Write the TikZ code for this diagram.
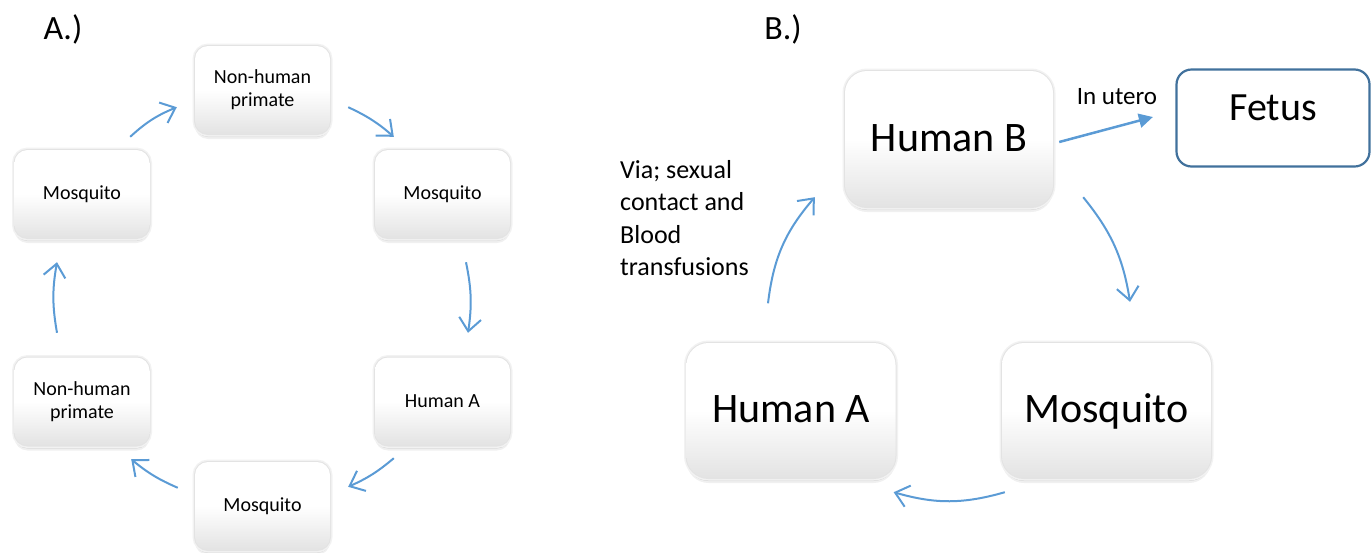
\documentclass[tikz,border=0pt]{standalone}
\usepackage{fontspec}
\setmainfont{Carlito}
\usepackage{tikz}
\usetikzlibrary{calc, arrows.meta, shadows, shapes, positioning}
\definecolor{arrowblue}{RGB}{91, 155, 213}
\definecolor{fetusblue}{RGB}{65, 113, 156}
\tikzset{
    boxlook/.style = {rectangle, drop shadow={shadow xshift=0pt, shadow yshift=-5pt, opacity=0.12},
      drop shadow={shadow xshift=0pt, shadow yshift=-3pt, opacity=0.22},
      preaction={draw=black!5, line width=5pt}, preaction={draw=black!11, line width=2pt},
      top color=white, bottom color=black!11, middle color=white, inner sep=0em, node distance=0em},
    smallbox/.style = {boxlook, rounded corners=13pt, minimum width=135pt, minimum height=88pt,
      font=\fontsize{20}{23}\selectfont},
    bigbox/.style = {boxlook, rounded corners=22pt, minimum width=209pt, minimum height=135pt,
      text height=29pt, text depth=5pt, font=\fontsize{42}{48}\selectfont},
    fetusnode/.style = {draw=fetusblue, line width=2.2pt, rectangle, rounded corners=15pt, fill=white, inner sep=0em,
      node distance=0em, minimum width=193pt, minimum height=97pt, text height=26pt, text depth=22pt,
      font=\fontsize{40}{46}\selectfont},
    textnode/.style = {draw=none, fill=none, rectangle, inner sep=0em, node distance=0em},
    connect/.style = {draw=arrowblue, line width=2pt, -{Straight Barb[length=13pt, width=22pt]}},
    uterolink/.style = {draw=arrowblue, line width=2.5pt, -{Triangle[length=14pt, width=14pt]}},
    every text node part/.style={align=center}
}

\begin{document}
\begin{tikzpicture}[x=1pt, y=-1pt]
\useasboundingbox (0,0) rectangle (1372,552);

\node[textnode, name=labelA, font=\fontsize{34}{40}\selectfont] at (63,29) {A.)};
\node[textnode, name=labelB, right of = labelA, xshift=720pt, font=\fontsize{34}{40}\selectfont] {B.)};

\node[smallbox, name=nhpTop] at (262.5,90) {Non-human\\primate};
\node[smallbox, name=mosLeft, left of = nhpTop, xshift=-180.5pt, yshift=-104pt] {Mosquito};
\node[smallbox, name=mosRight, right of = nhpTop, xshift=180pt, yshift=-104pt] {Mosquito};
\node[smallbox, name=nhpBot, below of = mosLeft, yshift=-207.5pt] {Non-human\\primate};
\node[smallbox, name=humanA, below of = mosRight, yshift=-207.5pt] {Human A};
\node[smallbox, name=mosBot, below of = nhpTop, yshift=-416pt] {Mosquito};

\draw[connect] ([xshift=-19.5pt, yshift=13pt]mosLeft.north east) to[bend left=10] ([xshift=-18pt, yshift=27pt]nhpTop.south west);
\draw[connect] ([xshift=18pt, yshift=27pt]nhpTop.south east) to[bend left=8] ([xshift=19pt, yshift=13pt]mosRight.north west);
\draw[connect] ([xshift=23.5pt, yshift=-24pt]mosRight.south) to[bend left=10] ([xshift=25.5pt, yshift=24.5pt]humanA.north);
\draw[connect] ([xshift=19pt, yshift=-12.5pt]humanA.south west) to[bend left=8] ([xshift=18pt, yshift=-25pt]mosBot.north east);
\draw[connect] ([xshift=-17pt, yshift=-26pt]mosBot.north west) to[bend left=8] ([xshift=-18.5pt, yshift=-13.5pt]nhpBot.south east);
\draw[connect] ([xshift=-25pt, yshift=24.5pt]nhpBot.north) to[bend left=10] ([xshift=-25pt, yshift=-24pt]mosLeft.south);

\node[bigbox, name=humanB, minimum width=208pt, minimum height=136pt] at (949,139) {Human B};
\node[fetusnode, name=fetus, right of = humanB, xshift=324pt, yshift=21pt] {Fetus};
\node[bigbox, name=humanA2, below of = humanB, xshift=-158pt, yshift=-271.5pt] {Human A};
\node[bigbox, name=mos2, right of = humanA2, xshift=315.5pt] {Mosquito};

\node[textnode, name=utero, above of = fetus, xshift=-156pt, yshift=21pt, font=\fontsize{25}{30}\selectfont] {In utero};
\node[textnode, name=via, left of = humanB, anchor=west, xshift=-329pt, yshift=-79pt,
	every text node part/.style={align=left}, font=\fontsize{26}{32.5}\selectfont] {Via; sexual\\contact and\\Blood\\transfusions};

\draw[uterolink] ([xshift=6pt, yshift=-3pt]humanB.east) -- ([xshift=-22.5pt, yshift=1pt]fetus.west);
\draw[connect] ([xshift=30pt, yshift=10pt]humanB.south east) to[bend left=15] ([xshift=23.5pt, yshift=41pt]mos2.north);
\draw[connect] ([xshift=3pt, yshift=-14pt]mos2.south west) to[bend left=16] ([xshift=-2pt, yshift=-14pt]humanA2.south east);
\draw[connect] ([xshift=-23pt, yshift=39.5pt]humanA2.north) to[bend left=17] ([xshift=-30pt, yshift=10pt]humanB.south west);
\end{tikzpicture}
\end{document}
